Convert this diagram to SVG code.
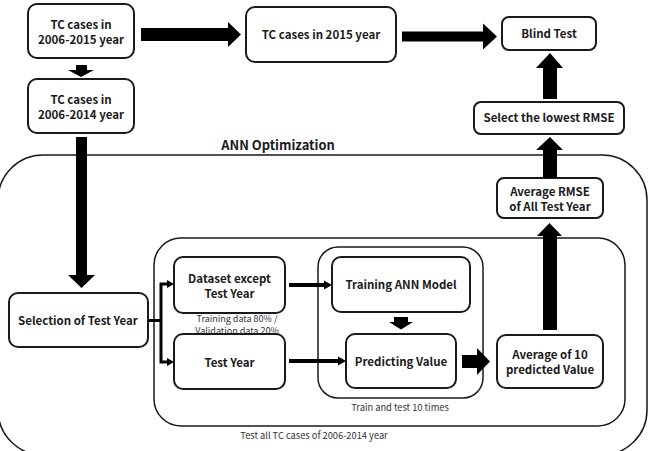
<svg xmlns="http://www.w3.org/2000/svg" width="651" height="451" viewBox="0 0 651 451">
<style>
.box{fill:#fff;stroke:#1a1a1a;stroke-width:2}
.frame{fill:none;stroke:#1a1a1a;stroke-width:1.5}
.lbl{font-family:"Noto Sans CJK KR","Noto Sans",sans-serif;font-weight:bold;font-size:11.5px;fill:#1a1a1a;text-anchor:middle}
.note{font-family:"Noto Sans CJK KR","Noto Sans",sans-serif;font-size:9.3px;fill:#333;text-anchor:middle}
.blk{fill:#000}
.thin{fill:none;stroke:#000;stroke-width:3}
.mid{fill:none;stroke:#000;stroke-width:4}
</style>
<rect width="651" height="451" fill="#fff"/>
<g id="frame-ann">
<rect class="frame" x="-2" y="155" width="649" height="300" rx="45"/>
<text class="lbl" x="278" y="150" style="font-size:12.9px">ANN Optimization</text>
</g>
<g id="frame-test">
<rect class="frame" x="154" y="238" width="471" height="188" rx="27"/>
<text class="note" x="314" y="439">Test all TC cases of 2006-2014 year</text>
</g>
<g id="frame-loop">
<rect class="frame" x="318" y="247" width="165" height="151" rx="20"/>
<text class="note" x="400" y="411">Train and test 10 times</text>
</g>
<g id="n-all">
<rect class="box" x="28" y="4" width="106" height="54" rx="9"/>
<text class="lbl" x="81" y="28.5">TC cases in</text>
<text class="lbl" x="81" y="43.5">2006-2015 year</text>
</g>
<g id="n-2015">
<rect class="box" x="246" y="7" width="150" height="55" rx="9"/>
<text class="lbl" x="321" y="39">TC cases in 2015 year</text>
</g>
<g id="n-blind">
<rect class="box" x="502" y="17" width="94" height="33" rx="7"/>
<text class="lbl" x="549" y="38">Blind Test</text>
</g>
<g id="n-2014">
<rect class="box" x="28" y="79" width="106" height="54" rx="9"/>
<text class="lbl" x="81" y="103.5">TC cases in</text>
<text class="lbl" x="81" y="118.5">2006-2014 year</text>
</g>
<g id="n-select">
<rect class="box" x="474" y="102" width="150" height="32" rx="7"/>
<text class="lbl" x="549" y="122">Select the lowest RMSE</text>
</g>
<g id="n-avgrmse">
<rect class="box" x="497" y="178" width="106" height="40" rx="7"/>
<text class="lbl" x="550" y="196">Average RMSE</text>
<text class="lbl" x="550" y="210.5">of All Test Year</text>
</g>
<g id="n-selection">
<rect class="box" x="9" y="293" width="139" height="54" rx="9"/>
<text class="lbl" x="78" y="325">Selection of Test Year</text>
</g>
<g id="n-dataset">
<rect class="box" x="174" y="257" width="111" height="56" rx="9"/>
<text class="lbl" x="229.5" y="283">Dataset except</text>
<text class="lbl" x="229.5" y="298">Test Year</text>
<text class="note" x="237" y="322" style="font-size:9px">Training data 80% /</text>
<text class="note" x="237" y="333.5" style="font-size:9px">Validation data 20%</text>
</g>
<g id="n-testyear">
<rect class="box" x="174" y="334" width="111" height="55" rx="9"/>
<text class="lbl" x="229.5" y="367">Test Year</text>
</g>
<g id="n-training">
<rect class="box" x="332" y="257" width="138" height="55" rx="9"/>
<text class="lbl" x="401" y="289">Training ANN Model</text>
</g>
<g id="n-predict">
<rect class="box" x="346" y="334" width="110" height="54" rx="9"/>
<text class="lbl" x="401" y="366">Predicting Value</text>
</g>
<g id="n-avg10">
<rect class="box" x="497" y="335" width="106" height="53" rx="9"/>
<text class="lbl" x="550" y="359">Average of 10</text>
<text class="lbl" x="550" y="373.5">predicted Value</text>
</g>
<g id="connectors">
<polygon class="blk" points="141,28 228,28 228,22 241,34.5 228,47 228,41 141,41"/>
<polygon class="blk" points="402,31.5 483,31.5 483,23.5 497,36.5 483,49.5 483,41.5 402,41.5"/>
<polygon class="blk" points="76,65 87,65 87,70 94,70 81,77 68,70 76,70"/>
<polygon class="blk" points="76,137 87,137 87,275 95,275 81.5,288 68,275 76,275"/>
<polygon class="blk" points="543,99 557,99 557,68 563,68 550,53 536,68 543,68"/>
<polygon class="blk" points="543,178 557,178 557,150 563,150 550,137 536,150 543,150"/>
<polygon class="blk" points="543,330 557,330 557,236 562,236 549.5,223 537,236 543,236"/>
<polygon class="blk" points="394,317 408,317 408,322 413,322 401,329.5 389,322 394,322"/>
<polygon class="blk" points="462,355 477,355 477,348 490,361.5 477,375 477,368 462,368"/>
<path class="thin" d="M148,320.5 H161 M161,284 V362 M159.5,284 H168 M159.5,362 H168"/>
<polygon class="blk" points="167,280 174,284 167,288"/>
<polygon class="blk" points="167,358 174,362 167,366"/>
<path class="mid" d="M289,285 H325 M289,361 H339"/>
<polygon class="blk" points="324,280.5 332,285 324,289.5"/>
<polygon class="blk" points="338,356.5 346,361 338,365.5"/>
</g>
</svg>
